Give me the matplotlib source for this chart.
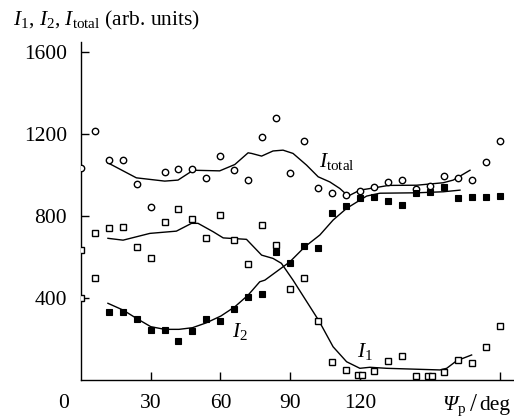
import matplotlib
matplotlib.use("Agg")
import matplotlib.pyplot as plt
import numpy as np

plt.rcParams['font.family'] = ['Liberation Serif', 'DejaVu Serif']
plt.rcParams['mathtext.fontset'] = 'custom'
plt.rcParams['mathtext.rm'] = 'Liberation Serif'
plt.rcParams['mathtext.it'] = 'Liberation Serif:italic'
plt.rcParams['font.size'] = 15.5

# --- data ---
ang = np.arange(0, 181, 6)

# I_total (open circles)
tot_x = ang
tot_y = [1033, 1215, 1073, 1073, 955, 843, 1013, 1028, 1028, 987, 1094, 1024, 976, 1183,
         1277, 1011, 1166, 938, 911, 902, 922, 943, 966, 976, 932, 946, 995, 987, 976, 1062, 1167]

# I_1 (open squares)
i1_x = [0, 0, 6, 6, 12, 18, 24, 30, 36, 42, 48, 54, 60, 66, 72, 78, 84, 90, 96, 102, 108, 114,
        119.3, 120.7, 126, 132, 138, 144, 149.3, 150.7, 156, 162, 168, 174, 180]
i1_y = [634, 401, 715, 496, 740, 745, 650, 593, 769, 833, 784, 691, 805, 683, 566, 756, 659,
        442, 499, 289, 89, 49, 24, 24, 45, 94, 119, 21, 21, 21, 37, 98, 81, 161, 263]

# I_2 (filled squares)
i2_x = ang[2:]
i2_y = [333, 333, 298, 244, 244, 190, 241, 296, 288, 345, 406, 418, 623, 572, 655, 642, 816,
        850, 886, 894, 873, 854, 914, 915, 943, 889, 894, 894, 899]

# smoothed curves
tot_cx = [11.7, 23.9, 36.1, 41.8, 48.3, 59.7, 66.2, 71.9, 73.4, 77.7, 82.6, 86.9, 91.2, 97,
          102, 107, 111.3, 114.9, 119.9, 126, 132.2, 144.3, 155.7, 160, 167.2]
tot_cy = [1059, 986, 970, 975, 1023, 1020, 1051, 1108, 1105, 1092, 1117, 1121, 1105, 1048,
          991, 966, 934, 897, 926, 937, 949, 950, 962, 975, 1023]

i1_cx = [11.7, 18.2, 29.7, 41.1, 47.6, 50.4, 56.9, 61.2, 71.2, 77.7, 82.6, 86.2, 91.2, 102.3,
         108.4, 114.2, 119.9, 124.2, 131.4, 154.3, 157.2, 161.5, 167.9]
i1_cy = [691, 682, 715, 726, 764, 764, 723, 693, 686, 609, 593, 569, 487, 289,
         162, 89, 57, 62, 57, 49, 57, 94, 122]

i2_cx = [11.7, 18.2, 23.9, 30.1, 36.1, 42.2, 48, 54, 60.2, 66.2, 71.9, 76.9, 79.1, 89.8,
         96.3, 102.7, 108.4, 114.2, 119.9, 122.8, 128.5, 144.3, 155.7, 162.9]
i2_cy = [374, 341, 301, 260, 247, 247, 255, 279, 312, 357, 414, 479, 487, 576,
         650, 707, 780, 837, 877, 897, 911, 913, 918, 926]

xticks = [30, 60, 90, 120, 180]
xticklabels = ['30', '60', '90', '120', '']
yticks = [400, 800, 1200, 1600]

fig = plt.figure(figsize=(5.14, 4.19), dpi=100)
ax = fig.add_axes([0.157, 0.0931, 0.843, 0.8074])

ax.plot(tot_cx, tot_cy, color='black', lw=1.0, zorder=2)
ax.plot(i1_cx, i1_cy, color='black', lw=1.0, zorder=2)
ax.plot(i2_cx, i2_cy, color='black', lw=1.0, zorder=2)

ax.plot(tot_x, tot_y, 'o', ms=4.6, mfc='white', mec='black', mew=1.0, ls='none', zorder=3)
ax.plot(i1_x, i1_y, 's', ms=4.6, mfc='white', mec='black', mew=1.0, ls='none', zorder=3)
ax.plot(i2_x, i2_y, 's', ms=5.0, mfc='black', mec='black', mew=0.8, ls='none', zorder=3)

ax.text(102.5, 1040, r'$I_{\rm total}$', ha='left', va='baseline')
ax.text(118.5, 112, r'$I_1$', ha='left', va='baseline')
ax.text(65, 212, r'$I_2$', ha='left', va='baseline')

ax.set_xlim(0, 186.1)
ax.set_ylim(0, 1650)
ax.spines['top'].set_visible(False)
ax.spines['right'].set_visible(False)
ax.spines['left'].set_linewidth(1.0)
ax.spines['bottom'].set_linewidth(1.0)

ax.set_xticks(xticks)
ax.set_xticklabels(xticklabels)
ax.set_yticks(yticks)
ax.tick_params(direction='in', length=5.5, width=1.0, pad=10)
ax.tick_params(axis='y', pad=10)

W, H = 514, 419
fig.text(63.3 / W, 1 - 403 / H, '0', ha='center', va='center')
# x axis label: italic Psi, subscript p, slash, deg
fig.text(442 / W, 1 - 410 / H, 'Ψ', style='italic', ha='left', va='baseline')
fig.text(457.5 / W, 1 - 413 / H, 'p', fontsize=11, ha='left', va='baseline')
fig.text(470.5 / W, 1 - 411 / H, '/', fontsize=18, ha='left', va='baseline')
fig.text(479.5 / W, 1 - 410 / H, 'deg', ha='left', va='baseline')
fig.text(12.7 / W, 1 - 25 / H, r'$I_1$, $I_2$, $I_{\rm total}$ (arb. units)', ha='left', va='baseline')

fig.savefig('out.png', dpi=100)
